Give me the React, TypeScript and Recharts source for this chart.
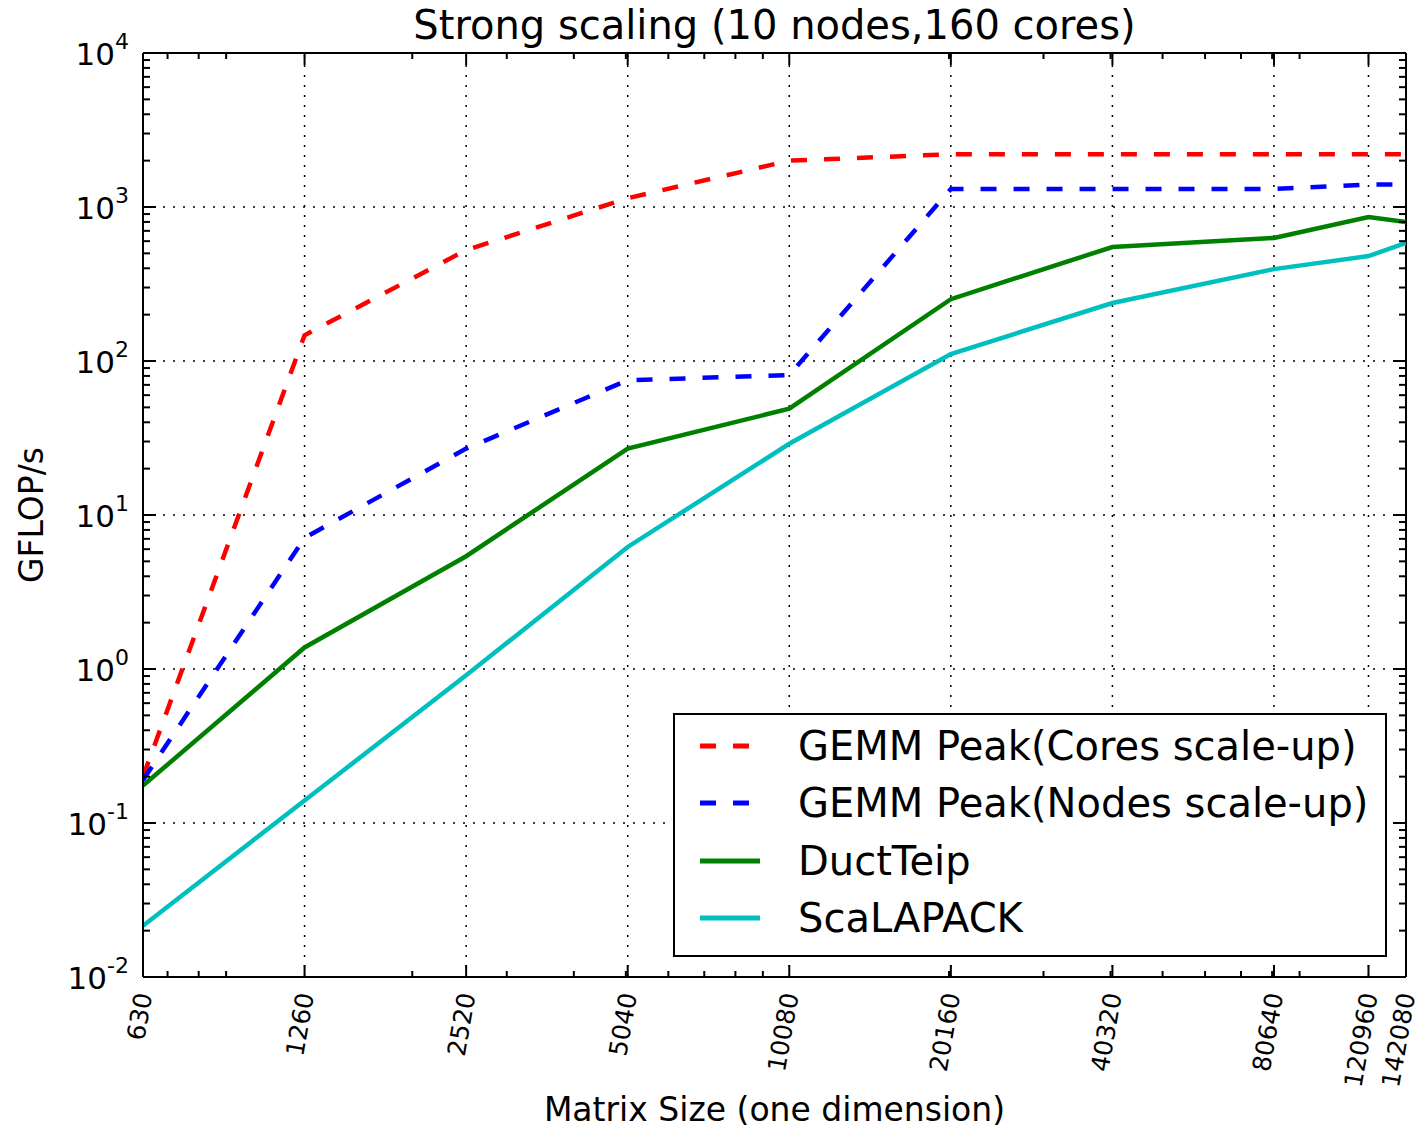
import React from 'react';
import { LineChart, Line, XAxis, YAxis, ReferenceLine, Legend } from 'recharts';

// ---------- data ----------
const TITLE = 'Strong scaling (10 nodes,160 cores)';
const X_LABEL = 'Matrix Size (one dimension)';
const Y_LABEL = 'GFLOP/s';

const matrixSizes = [630, 1260, 2520, 5040, 10080, 20160, 40320, 80640, 120960, 142080];
const gemmCores = [0.2, 147, 525, 1140, 2000, 2200, 2200, 2200, 2200, 2200];
const gemmNodes = [0.19, 7.1, 27, 75, 81, 1310, 1310, 1310, 1400, 1400];
const ductTeip = [0.175, 1.38, 5.4, 27, 49, 252, 550, 630, 860, 800];
const scaLapack = [0.0215, 0.14, 0.91, 6.2, 29, 111, 238, 395, 480, 584];

const xMajorTicks = matrixSizes;
const xMinorTicks = [700, 800, 900, 2000, 3000, 4000, 5000, 6000, 7000, 8000, 9000,
  20000, 30000, 40000, 50000, 60000, 70000, 80000, 90000];
const yMajorTicks = [0.01, 0.1, 1, 10, 100, 1000, 10000];
const yExponents = ['-2', '-1', '0', '1', '2', '3', '4'];
const yMinorMultipliers = [2, 3, 4, 5, 6, 7, 8, 9];
const yMinorTicks = yMajorTicks.slice(0, -1).flatMap((d) => yMinorMultipliers.map((m) => +(m * d).toPrecision(6)));

const SERIES = [
  { key: 'gemmCores', name: 'GEMM Peak(Cores scale-up)', values: gemmCores, color: '#ff0000', dash: '16 17' },
  { key: 'gemmNodes', name: 'GEMM Peak(Nodes scale-up)', values: gemmNodes, color: '#0000ff', dash: '16 17' },
  { key: 'ductTeip', name: 'DuctTeip', values: ductTeip, color: '#008000', dash: undefined },
  { key: 'scaLapack', name: 'ScaLAPACK', values: scaLapack, color: '#00bfbf', dash: undefined },
];

const data = matrixSizes.map((x, i) => {
  const row: Record<string, number> = { x };
  SERIES.forEach((s) => { row[s.key] = s.values[i]; });
  return row;
});

// ---------- layout ----------
const W = 1425;
const H = 1130;
const PLOT_LEFT = 143;
const PLOT_RIGHT = 1406;
const PLOT_TOP = 53;
const PLOT_BOTTOM = 977;
const FONT = '"DejaVu Sans", "Bitstream Vera Sans", sans-serif';

const XTick = (props: any) => {
  const { x, payload } = props;
  const v = payload.value;
  const major = xMajorTicks.includes(v);
  const len = major ? 12 : 6;
  return (
    <g>
      <line x1={x} x2={x} y1={PLOT_BOTTOM} y2={PLOT_BOTTOM - len} stroke="#000" strokeWidth={2} />
      <line x1={x} x2={x} y1={PLOT_TOP} y2={PLOT_TOP + len} stroke="#000" strokeWidth={2} />
      {major && (
        <text
          x={0}
          y={0}
          transform={`translate(${x + 1},${993}) rotate(-80)`}
          textAnchor="end"
          dominantBaseline="central"
          fontSize={25}
          fontFamily={FONT}
          fill="#000"
        >
          {String(v)}
        </text>
      )}
    </g>
  );
};

const YTick = (props: any) => {
  const { y, payload } = props;
  const v = payload.value;
  const idx = yMajorTicks.indexOf(v);
  const major = idx >= 0;
  const len = major ? 13 : 7;
  return (
    <g>
      <line x1={PLOT_LEFT} x2={PLOT_LEFT + len} y1={y} y2={y} stroke="#000" strokeWidth={2} />
      <line x1={PLOT_RIGHT} x2={PLOT_RIGHT - len} y1={y} y2={y} stroke="#000" strokeWidth={2} />
      {major && (
        <text x={129} y={y + 12} textAnchor="end" fontFamily={FONT} fill="#000">
          <tspan fontSize={31}>10</tspan>
          <tspan fontSize={22} dy={-16}>{yExponents[idx]}</tspan>
        </text>
      )}
    </g>
  );
};

const LEGEND_BOX = { left: 673, top: 713, width: 714, height: 244 };
const LEGEND_ROWS = [33, 90, 148, 205];

const renderLegend = () => (
  <svg width={LEGEND_BOX.width} height={LEGEND_BOX.height} style={{ display: 'block' }}>
    <rect x={1} y={1} width={LEGEND_BOX.width - 2} height={LEGEND_BOX.height - 2} fill="#fff" stroke="#000" strokeWidth={2} />
    {SERIES.map((s, i) => (
      <g key={s.key}>
        <line x1={27} x2={87} y1={LEGEND_ROWS[i]} y2={LEGEND_ROWS[i]} stroke={s.color} strokeWidth={5} strokeDasharray={s.dash} />
        <text x={125} y={LEGEND_ROWS[i]} dominantBaseline="central" fontSize={40} fontFamily={FONT} fill="#000">
          {s.name}
        </text>
      </g>
    ))}
  </svg>
);

export default function App() {
  return (
    <div style={{ position: 'absolute', left: 0, top: 0, width: W, height: H, background: '#fff' }}>
      <LineChart width={W} height={H} data={data} margin={{ top: PLOT_TOP, right: W - PLOT_RIGHT, bottom: 0, left: 0 }}>
        <XAxis
          dataKey="x"
          type="number"
          scale="log"
          domain={[630, 142080]}
          allowDataOverflow
          ticks={[...xMajorTicks, ...xMinorTicks]}
          interval={0}
          height={H - PLOT_BOTTOM}
          tickSize={0}
          tickMargin={0}
          tickLine={false}
          axisLine={{ stroke: '#000', strokeWidth: 2 }}
          tick={(p: any) => <XTick {...p} />}
        />
        <YAxis
          type="number"
          scale="log"
          domain={[0.01, 10000]}
          allowDataOverflow
          ticks={[...yMajorTicks, ...yMinorTicks]}
          interval={0}
          width={PLOT_LEFT}
          tickSize={0}
          tickMargin={0}
          tickLine={false}
          axisLine={{ stroke: '#000', strokeWidth: 2 }}
          tick={(p: any) => <YTick {...p} />}
        />
        {xMajorTicks.map((v) => (
          <ReferenceLine key={'gx' + v} x={v} stroke="#000" strokeWidth={1.5} strokeDasharray="2 8" />
        ))}
        {yMajorTicks.map((v) => (
          <ReferenceLine key={'gy' + v} y={v} stroke="#000" strokeWidth={1.5} strokeDasharray="2 8" />
        ))}
        <ReferenceLine x={142080} stroke="#000" strokeWidth={2} />
        <ReferenceLine y={10000} stroke="#000" strokeWidth={2} />
        {SERIES.map((s) => (
          <Line
            key={s.key}
            dataKey={s.key}
            name={s.name}
            type="linear"
            stroke={s.color}
            strokeWidth={4.5}
            strokeDasharray={s.dash}
            dot={false}
            activeDot={false}
            isAnimationActive={false}
          />
        ))}
        <Legend
          layout="vertical"
          align="center"
          verticalAlign="middle"
          wrapperStyle={{ position: 'absolute', left: LEGEND_BOX.left, top: LEGEND_BOX.top, width: LEGEND_BOX.width, height: LEGEND_BOX.height }}
          content={renderLegend}
        />
      </LineChart>
      <svg width={W} height={H} style={{ position: 'absolute', left: 0, top: 0, pointerEvents: 'none' }}>
        <text x={(PLOT_LEFT + PLOT_RIGHT) / 2} y={39} textAnchor="middle" fontSize={40} fontFamily={FONT} fill="#000">
          {TITLE}
        </text>
        <text x={(PLOT_LEFT + PLOT_RIGHT) / 2} y={1121} textAnchor="middle" fontSize={33} fontFamily={FONT} fill="#000">
          {X_LABEL}
        </text>
        <text
          x={0}
          y={0}
          transform={`translate(43,${(PLOT_TOP + PLOT_BOTTOM) / 2}) rotate(-90)`}
          textAnchor="middle"
          fontSize={33}
          fontFamily={FONT}
          fill="#000"
        >
          {Y_LABEL}
        </text>
      </svg>
    </div>
  );
}
